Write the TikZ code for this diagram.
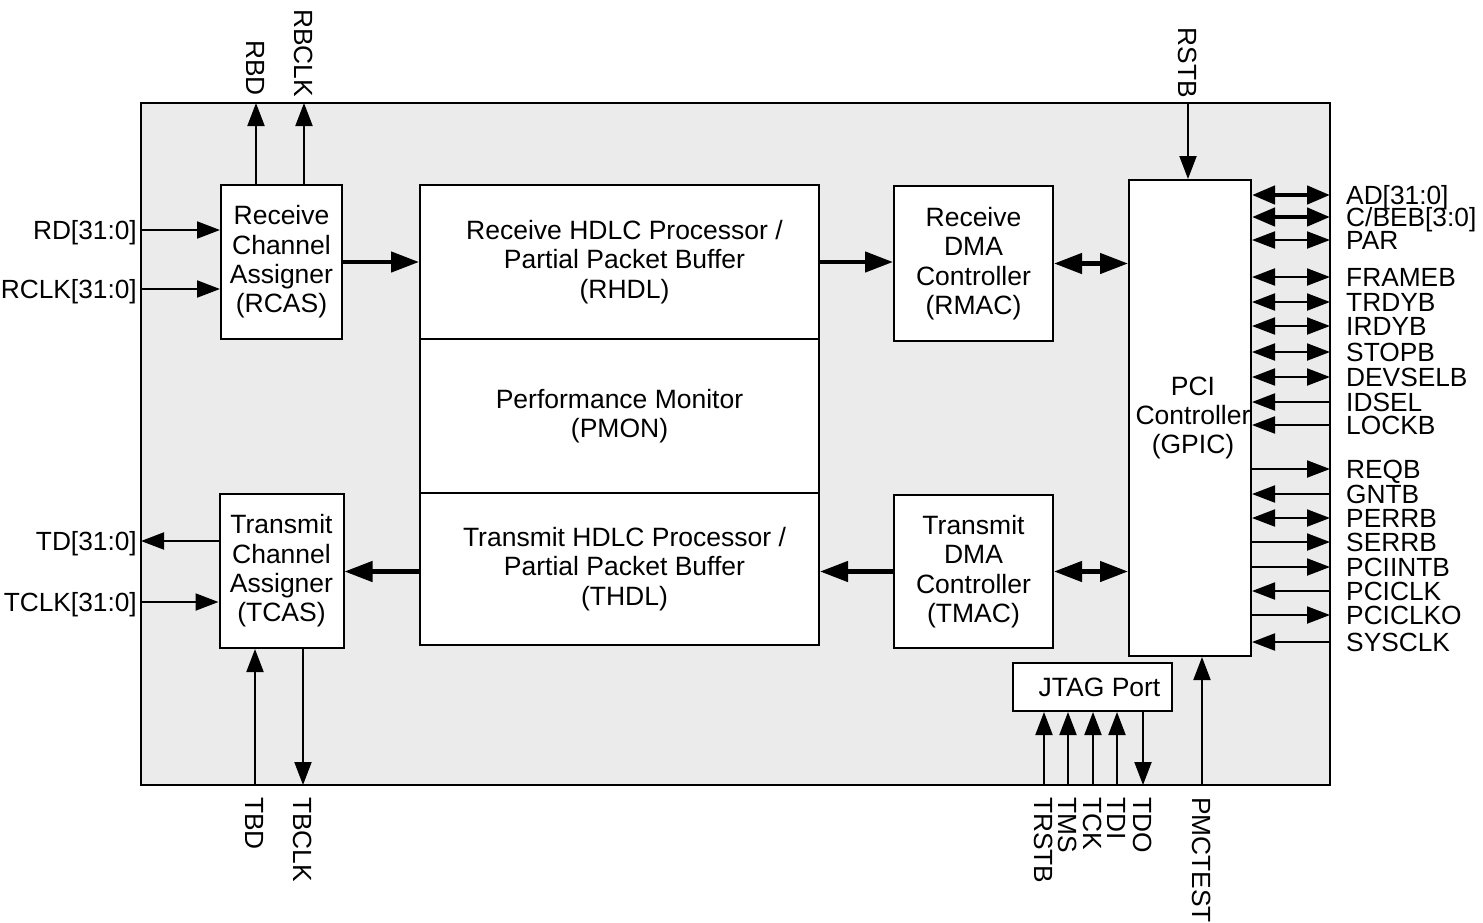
\documentclass[tikz,border=0pt]{standalone}
\usepackage{fontspec}
\setmainfont{Liberation Sans}
\usetikzlibrary{arrows.meta}
\definecolor{chipgray}{RGB}{235,235,235}
\tikzstyle{block}=[draw, fill=white, line width=2pt, align=center, inner sep=0pt, font=\fontsize{26.5}{29.3}\selectfont]
\tikzstyle{pinlabel}=[inner sep=0pt, text height=18.8pt, text depth=0pt, font=\fontsize{26.3}{29}\selectfont]
\tikzset{sigout/.style={line width=2pt, -{Triangle[length=23pt,width=17pt]}},
  sigin/.style={line width=2pt, {Triangle[length=23pt,width=17pt]}-},
  sigboth/.style={line width=2pt, {Triangle[length=23pt,width=17pt]}-{Triangle[length=23pt,width=17pt]}},
  busout/.style={line width=4.5pt, -{Triangle[length=28pt,width=20pt]}},
  busboth/.style={line width=4.5pt, {Triangle[length=28pt,width=20pt]}-{Triangle[length=28pt,width=20pt]}},
  pcibus/.style={line width=4.5pt, {Triangle[length=23pt,width=18pt]}-{Triangle[length=23pt,width=18pt]}}}

\begin{document}
\begin{tikzpicture}[x=1pt, y=-1pt]
    \useasboundingbox (0,0) rectangle (1483,922);
    \node[draw, fill=chipgray, line width=2pt, inner sep=0pt, minimum width=1189pt, minimum height=682pt] (chip) at (735.5,444) {};
    % blocks
    \node[block, minimum width=121pt, minimum height=154pt] (rcas) at (281.5,262) {Receive\\Channel\\Assigner\\(RCAS)};
    \node[block, minimum width=124pt, minimum height=154pt] (tcas) at (281.5,571) {Transmit\\Channel\\Assigner\\(TCAS)};
    \node[block, minimum width=399pt, minimum height=154pt] (rhdl) at (619.5,262) {\hspace{10pt}Receive HDLC Processor /\\\hspace{10pt}Partial Packet Buffer\\\hspace{10pt}(RHDL)};
    \node[block, minimum width=399pt, minimum height=154pt] (pmon) at (619.5,416) {Performance Monitor\\(PMON)};
    \node[block, minimum width=399pt, minimum height=152pt] (thdl) at (619.5,569) {\hspace{10pt}Transmit HDLC Processor /\\\hspace{10pt}Partial Packet Buffer\\\hspace{10pt}(THDL)};
    \node[block, minimum width=159pt, minimum height=155pt] (rmac) at (973.5,263.5) {Receive\\DMA\\Controller\\(RMAC)};
    \node[block, minimum width=159pt, minimum height=153pt] (tmac) at (973.5,571.5) {Transmit\\DMA\\Controller\\(TMAC)};
    \node[block, minimum width=122pt, minimum height=476pt] (gpic) at (1190,418) {\hspace{6pt}PCI\\\hspace{6pt}Controller\\\hspace{6pt}(GPIC)};
    \node[block, minimum width=159pt, minimum height=48pt] (jtag) at (1092.5,687) {\hspace{14pt}JTAG Port};
    % data path
    \draw[busout] (rcas) -- (rhdl);
    \draw[busout] (rhdl.east) -- (rmac.west |- rhdl.east);
    \draw[busboth] (rmac.east) -- (gpic.west |- rmac.east);
    \draw[busout] (tmac.west) -- (thdl.east |- tmac.west);
    \draw[busout] (thdl.west |- tmac.west) -- (tcas.east |- tmac.west);
    \draw[busboth] (tmac.east) -- (gpic.west |- tmac.east);
    % left pins
    \coordinate (rd) at (141,230);
    \coordinate (rclk) at (141,289);
    \coordinate (td) at (141,541);
    \coordinate (tclk) at (141,602);
    \node[pinlabel, anchor=east] (rdl) at (137,230) {RD[31:0]};
    \node[pinlabel, anchor=east] (rclkl) at (137,289) {RCLK[31:0]};
    \node[pinlabel, anchor=east] (tdl) at (137,541) {TD[31:0]};
    \node[pinlabel, anchor=east] (tclkl) at (137,602) {TCLK[31:0]};
    \draw[sigout] (rd) -- (rcas.west |- rd);
    \draw[sigout] (rclk) -- (rcas.west |- rclk);
    \draw[sigout] (tcas.west |- td) -- (td);
    \draw[sigout] (tclk) -- (tcas.west |- tclk);
    % top pins
    \coordinate (rbd) at (256,103);
    \coordinate (rbclk) at (304,103);
    \coordinate (rstb) at (1188,103);
    \node[pinlabel, rotate=-90, anchor=east] (rbdl) at (256,96) {RBD};
    \node[pinlabel, rotate=-90, anchor=east] (rbclkl) at (304,97) {RBCLK};
    \node[pinlabel, rotate=-90, anchor=east] (rstbl) at (1188,98) {RSTB};
    \draw[sigout] (rcas.north -| rbd) -- (rbd);
    \draw[sigout] (rcas.north -| rbclk) -- (rbclk);
    \draw[sigout] (rstb) -- (gpic.north -| rstb);
    % bottom pins
    \coordinate (tbd) at (255,785);
    \coordinate (tbclk) at (303,785);
    \coordinate (tdo) at (1143,785);
    \coordinate (pmctest) at (1202,785);
    \node[pinlabel, rotate=-90, anchor=west] (tbdl) at (255,797) {TBD};
    \node[pinlabel, rotate=-90, anchor=west] (tbclkl) at (303,797) {TBCLK};
    \node[pinlabel, rotate=-90, anchor=west] (tdol) at (1143,797) {TDO};
    \node[pinlabel, rotate=-90, anchor=west] (pmctestl) at (1202,797) {PMCTEST};
    \draw[sigout] (tbd) -- (tcas.south -| tbd);
    \draw[sigout] (tcas.south -| tbclk) -- (tbclk);
    \draw[sigout] (jtag.south -| tdo) -- (tdo);
    \draw[sigout] (pmctest) -- (gpic.south -| pmctest);
    \foreach \x/\sig in {1044/TRSTB, 1068/TMS, 1093/TCK, 1117/TDI}{
      \coordinate (jt\x) at (\x,785);
      \node[pinlabel, rotate=-90, anchor=west] (jl\x) at (\x,797) {\sig};
      \draw[sigout] (jt\x) -- (jtag.south -| jt\x);
    }
    % PCI pins
    \foreach \y/\sig/\kind in {195/AD[31:0]/pcibus, 217/{C/BEB[3:0]}/pcibus, 240/PAR/sigboth,
        277/FRAMEB/sigboth, 302/TRDYB/sigboth, 326/IRDYB/sigboth, 352/STOPB/sigboth,
        377/DEVSELB/sigboth, 402/IDSEL/sigin, 425/LOCKB/sigin, 469/REQB/sigout,
        494/GNTB/sigin, 518/PERRB/sigboth, 542/SERRB/sigout, 567/PCIINTB/sigout,
        591/PCICLK/sigin, 615/PCICLKO/sigout, 642/SYSCLK/sigin}{
      \coordinate (pin\y) at (1330,\y);
      \node[pinlabel, anchor=west] (lbl\y) at (1346,\y) {\sig};
      \draw[\kind] (gpic.east |- pin\y) -- (pin\y);
    }
\end{tikzpicture}
\end{document}
